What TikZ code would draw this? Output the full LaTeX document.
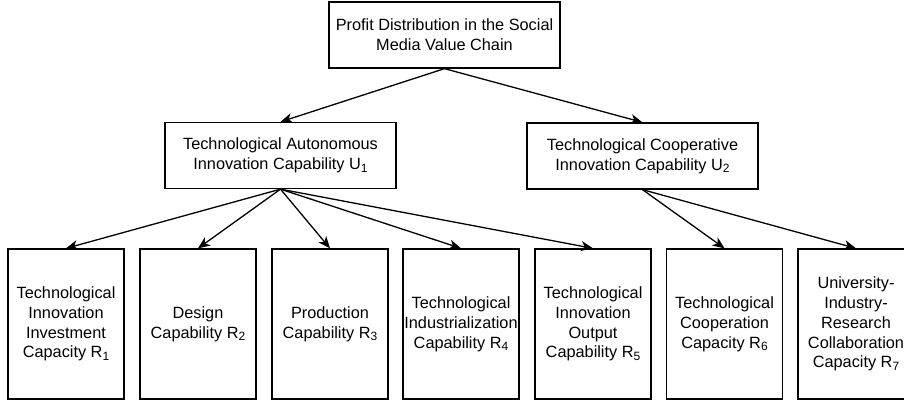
\documentclass[tikz,border=0pt]{standalone}
\usepackage{fontspec}
\setmainfont{Liberation Sans}
\usetikzlibrary{arrows.meta}
\newcommand{\sbs}[1]{\raisebox{-0.3ex}{\fontsize{12}{12}\selectfont #1}}
\begin{document}
\begin{tikzpicture}[x=1pt,y=-1pt,
  box/.style={draw,line width=1.3pt,inner sep=0pt,align=center,font=\fontsize{16.3}{19.8}\selectfont},
  topbox/.style={box,minimum width=231pt,minimum height=66pt},
  leafbox/.style={box,minimum width=116pt,minimum height=150pt},
  arr/.style={line width=1.3pt,-{Stealth[length=12pt,width=10pt,inset=3.5pt]}}]
\useasboundingbox (0,0) rectangle (904,402);
\node[topbox] (top) at (444.5,35) {Profit Distribution in the Social\\Media Value Chain};
\node[topbox] (u1) at (280.5,155.5) {Technological Autonomous\\Innovation Capability U\sbs{1}};
\node[topbox] (u2) at (642.5,156) {Technological Cooperative\\Innovation Capability U\sbs{2}};
\node[leafbox] (r1) at (66,324) {Technological\\Innovation\\Investment\\Capacity R\sbs{1}};
\node[leafbox] (r2) at (198,324) {Design\\Capability R\sbs{2}};
\node[leafbox] (r3) at (330,324) {Production\\Capability R\sbs{3}};
\node[leafbox] (r4) at (461,324) {Technological\\Industrialization\\Capability R\sbs{4}};
\node[leafbox] (r5) at (593,324) {Technological\\Innovation\\Output\\Capability R\sbs{5}};
\node[leafbox] (r6) at (724.5,324) {Technological\\Cooperation\\Capacity R\sbs{6}};
\node[leafbox] (r7) at (856,324) {University-\\Industry-\\Research\\Collaboration\\Capacity R\sbs{7}};
\draw[arr] (top.south) -- (u1.north);
\draw[arr] (top.south) -- (u2.north);
\foreach \r in {r1,r2,r3,r4,r5} \draw[arr] (u1.south) -- (\r.north);
\foreach \r in {r6,r7} \draw[arr] (u2.south) -- (\r.north);
\end{tikzpicture}
\end{document}
